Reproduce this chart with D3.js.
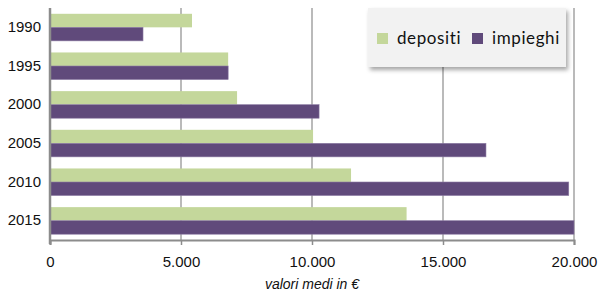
<!DOCTYPE html>
<html>
<head>
<meta charset="utf-8">
<script src="https://cdn.jsdelivr.net/npm/d3@7"></script>
<style>
  body { margin: 0; background: #fff; }
  svg { display: block; }
</style>
</head>
<body>
<div id="chart"></div>
<script>
var years = ["1990", "1995", "2000", "2005", "2010", "2015"];
var depositi = [5420, 6800, 7140, 10040, 11490, 13610];
var impieghi = [3550, 6800, 10270, 16640, 19800, 20000];
var seriesNames = ["depositi", "impieghi"];
var xTicks = [0, 5000, 10000, 15000, 20000];

var width = 600, height = 292;
var margin = { top: 8, left: 50, right: 26, bottom: 52 };
var colors = ["#c4d79b", "#604a7b"];

var svg = d3.select("#chart").append("svg")
    .attr("width", width)
    .attr("height", height);

var x = d3.scaleLinear()
    .domain([0, 20000])
    .range([margin.left, width - margin.right]);

var y = d3.scaleBand()
    .domain(years)
    .range([margin.top, height - margin.bottom])
    .paddingInner(0.3)
    .paddingOuter(0.15);

var inner = d3.scaleBand()
    .domain(seriesNames)
    .range([0, y.bandwidth()]);

// gridlines
svg.append("g").selectAll("line")
    .data(xTicks.slice(1))
    .enter().append("line")
    .attr("x1", d => x(d)).attr("x2", d => x(d))
    .attr("y1", margin.top).attr("y2", height - margin.bottom)
    .attr("stroke", "#8c8c8c")
    .attr("stroke-width", 1.2);

// bars
var rows = years.map((yr, i) => ({ year: yr, values: [depositi[i], impieghi[i]] }));
var groups = svg.append("g").selectAll("g")
    .data(rows).enter().append("g")
    .attr("transform", d => "translate(0," + y(d.year) + ")");

groups.selectAll("rect")
    .data(d => d.values.map((v, j) => ({ key: seriesNames[j], v: v, j: j })))
    .enter().append("rect")
    .attr("x", x(0))
    .attr("y", d => inner(d.key))
    .attr("width", d => x(d.v) - x(0))
    .attr("height", inner.bandwidth())
    .attr("fill", d => colors[d.j])
    .attr("stroke", d => d.j ? "#8c7ba3" : "none")
    .attr("stroke-width", 0.6);

// x axis
var xAxis = d3.axisBottom(x)
    .tickValues(xTicks)
    .tickSize(5)
    .tickFormat(d => d3.format(",")(d).replace(/,/g, "."));

var gx = svg.append("g")
    .attr("transform", "translate(0," + (height - margin.bottom) + ")")
    .call(xAxis);
gx.attr("font-family", null).attr("font-size", null);
gx.select(".domain").attr("stroke", "#8c8c8c").attr("stroke-width", 2);
gx.selectAll(".tick line").attr("stroke", "#8c8c8c").attr("stroke-width", 1.5);
gx.selectAll("text")
    .attr("dy", "0")
    .attr("y", 27)
    .attr("font-family", "Liberation Sans, Arial, sans-serif")
    .attr("font-size", "15px")
    .attr("fill", "#111");

// y axis
var yAxis = d3.axisLeft(y).tickSize(0).tickPadding(9);
var gy = svg.append("g")
    .attr("transform", "translate(" + margin.left + ",0)")
    .call(yAxis);
gy.attr("font-family", null).attr("font-size", null);
gy.select(".domain").remove();
gy.selectAll("text")
    .attr("font-family", "Liberation Sans, Arial, sans-serif")
    .attr("font-size", "15px")
    .attr("fill", "#111");
svg.append("line")
    .attr("x1", x(0)).attr("x2", x(0))
    .attr("y1", margin.top).attr("y2", height - margin.bottom + 4)
    .attr("stroke", "#8c8c8c").attr("stroke-width", 2.5);

// axis title
svg.append("text")
    .attr("x", (x(0) + x(20000)) / 2)
    .attr("y", 289)
    .attr("text-anchor", "middle")
    .attr("font-family", "Liberation Sans, Arial, sans-serif")
    .attr("font-size", "14px")
    .attr("font-style", "italic")
    .attr("fill", "#111")
    .text("valori medi in €");

// legend
var defs = svg.append("defs");
var filt = defs.append("filter").attr("id", "shadow")
    .attr("x", "-10%").attr("y", "-10%").attr("width", "130%").attr("height", "140%");
filt.append("feDropShadow")
    .attr("dx", 2).attr("dy", 3).attr("stdDeviation", 2)
    .attr("flood-color", "#000").attr("flood-opacity", 0.35);

var lg = svg.append("g").attr("transform", "translate(368,8)");
lg.append("rect")
    .attr("width", 198).attr("height", 59)
    .attr("fill", "#f2f2f2")
    .attr("filter", "url(#shadow)");

var legendX = [9, 104];
var items = lg.selectAll("g.item")
    .data(seriesNames).enter().append("g")
    .attr("class", "item")
    .attr("transform", (d, i) => "translate(" + legendX[i] + ",0)");
items.append("rect")
    .attr("y", 25).attr("width", 11).attr("height", 11)
    .attr("fill", (d, i) => colors[i]);
items.append("text")
    .attr("x", 20).attr("y", 36)
    .attr("font-family", "Lato, Open Sans, sans-serif")
    .attr("font-size", "17px")
    .attr("letter-spacing", "0.6px")
    .attr("fill", "#111")
    .text(d => d);
</script>
</body>
</html>
